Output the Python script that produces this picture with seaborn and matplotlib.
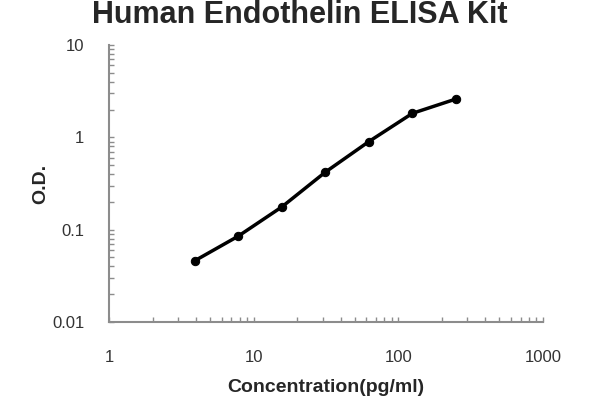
import numpy as np
import pandas as pd
import matplotlib
matplotlib.use("Agg")
import matplotlib.pyplot as plt
import seaborn as sns
from matplotlib.ticker import LogLocator, NullFormatter

# standard curve points
concentration = [3.9, 7.8, 15.6, 31.25, 62.5, 125, 250]
od = [0.046, 0.085, 0.176, 0.42, 0.90, 1.82, 2.60]

x_ticks = [1, 10, 100, 1000]
x_labels = ["1", "10", "100", "1000"]
y_ticks = [0.01, 0.1, 1, 10]
y_labels = ["0.01", "0.1", "1", "10"]

sns.set_style("white")
plt.rcParams["font.family"] = ["Liberation Sans", "DejaVu Sans"]

df = pd.DataFrame({"conc": concentration, "od": od})

fig = plt.figure(figsize=(6, 4), dpi=100)
ax = fig.add_axes([0.182, 0.195, 0.723, 0.6925])

sns.lineplot(data=df, x="conc", y="od", ax=ax, color="black", linewidth=2.5,
             marker="o", markersize=6, markeredgecolor="black")

ax.set_xscale("log")
ax.set_yscale("log")
ax.set_xlim(1, 1000)
ax.set_ylim(0.01, 10)
ax.set_xticks(x_ticks)
ax.set_xticklabels(x_labels)
ax.set_yticks(y_ticks)
ax.set_yticklabels(y_labels)
ax.xaxis.set_minor_locator(LogLocator(base=10, subs=np.arange(2, 10)))
ax.yaxis.set_minor_locator(LogLocator(base=10, subs=np.arange(2, 10)))
ax.xaxis.set_minor_formatter(NullFormatter())
ax.yaxis.set_minor_formatter(NullFormatter())

for side in ["top", "right"]:
    ax.spines[side].set_visible(False)
for side in ["left", "bottom"]:
    ax.spines[side].set_color("#8c8c8c")
    ax.spines[side].set_linewidth(1.5)

ax.tick_params(which="both", direction="in", bottom=True, left=True,
               colors="#8c8c8c", labelcolor="#333333",
               labelsize=12, length=3.5, width=1)
ax.tick_params(axis="x", which="major", pad=20)
ax.tick_params(axis="y", which="major", pad=18)

ax.set_xlabel("Concentration(pg/ml)", fontsize=14, fontweight="bold", labelpad=10)
ax.set_ylabel("O.D.", fontsize=14, fontweight="bold", labelpad=2)
fig.text(0.5, 1 - 15 / 400, "Human Endothelin ELISA Kit", fontsize=22,
         fontweight="bold", ha="center", va="center")

fig.savefig("out.png", dpi=100)
